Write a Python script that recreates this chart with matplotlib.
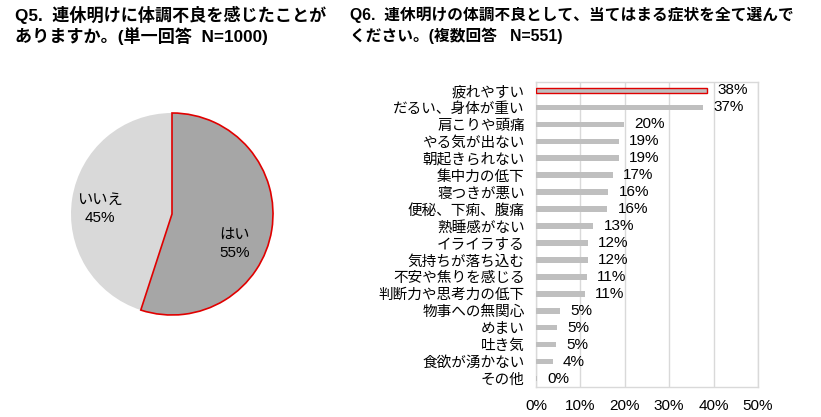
import matplotlib

matplotlib.use("Agg")
import matplotlib.pyplot as plt

plt.rcParams["font.family"] = ["Liberation Sans", "Noto Sans CJK JP", "DejaVu Sans"]

# Q5 pie
pie_labels = ["はい", "いいえ"]
pie_values = [55, 45]

# Q6 bars (top to bottom)
symptoms = [
    "疲れやすい", "だるい、身体が重い", "肩こりや頭痛", "やる気が出ない", "朝起きられない",
    "集中力の低下", "寝つきが悪い", "便秘、下痢、腹痛", "熟睡感がない", "イライラする",
    "気持ちが落ち込む", "不安や焦りを感じる", "判断力や思考力の低下", "物事への無関心",
    "めまい", "吐き気", "食欲が湧かない", "その他",
]
shares = [38.5, 37.6, 19.8, 18.7, 18.7, 17.3, 16.3, 16.1, 12.9, 11.7,
          11.7, 11.4, 11.0, 5.4, 4.7, 4.5, 3.8, 0.2]
share_labels = ["38%", "37%", "20%", "19%", "19%", "17%", "16%", "16%", "13%", "12%",
                "12%", "11%", "11%", "5%", "5%", "5%", "4%", "0%"]
xticks = [0, 10, 20, 30, 40, 50]

W, H = 821, 417
fig = plt.figure(figsize=(W / 100, H / 100), dpi=100)

# titles
fig.text(15 / W, 1 - 15 / H, "Q5.  連休明けに体調不良を感じたことが",
         fontsize=12.3, fontweight="bold", va="center", ha="left")
fig.text(15 / W, 1 - 36 / H, "ありますか。(単一回答  N=1000)",
         fontsize=12.3, fontweight="bold", va="center", ha="left")
fig.text(350 / W, 1 - 15 / H, "Q6.  連休明けの体調不良として、当てはまる症状を全て選んで",
         fontsize=11.3, fontweight="bold", va="center", ha="left")
fig.text(350 / W, 1 - 36 / H, "ください。(複数回答   N=551)",
         fontsize=11.3, fontweight="bold", va="center", ha="left")

# pie
cx, cy, r = 172, 214, 101
pax = fig.add_axes([(cx - r) / W, (H - cy - r) / H, 2 * r / W, 2 * r / H])
wedges, _ = pax.pie(pie_values, startangle=90, counterclock=False,
                    colors=["#a6a6a6", "#d9d9d9"],
                    wedgeprops=dict(linewidth=0))
wedges[0].set_edgecolor("#e00000")
wedges[0].set_linewidth(1.2)
wedges[0].set_zorder(3)
for w in wedges:
    w.set_clip_on(False)
pax.set_xlim(-1, 1)
pax.set_ylim(-1, 1)
pax.text(0.62, -0.30, f"{pie_labels[0]}\n{pie_values[0]}%", ha="center", va="center",
         fontsize=11, linespacing=1.3, zorder=5)
pax.text(-0.71, 0.05, f"{pie_labels[1]}\n{pie_values[1]}%", ha="center", va="center",
         fontsize=11, linespacing=1.3, zorder=5)

# bars
x0, x1, ytop, ybot = 536, 758, 82, 387
bax = fig.add_axes([x0 / W, (H - ybot) / H, (x1 - x0) / W, (ybot - ytop) / H])
ypos = list(range(len(symptoms)))
bars = bax.barh(ypos, shares, height=0.33, color="#bfbfbf", zorder=3)
bars[0].set_edgecolor("#e00000")
bars[0].set_linewidth(1.0)
for y, v, lab in zip(ypos, shares, share_labels):
    bax.text(v + 2.3, y, lab, ha="left", va="center", fontsize=11, zorder=4)
bax.set_ylim(len(symptoms) - 0.5, -0.5)
bax.set_xlim(0, 50)
bax.set_yticks(ypos)
bax.set_yticklabels(symptoms, fontsize=10.5)
bax.set_xticks(xticks)
bax.set_xticklabels([f"{t}%" for t in xticks], fontsize=11)
bax.tick_params(length=0, axis="y", pad=8)
bax.tick_params(length=0, axis="x", pad=9)
bax.grid(axis="x", color="#d9d9d9", linewidth=1.0, zorder=0)
for s in bax.spines.values():
    s.set_color("#d9d9d9")
    s.set_linewidth(1.0)

fig.savefig("out.png", dpi=100)
